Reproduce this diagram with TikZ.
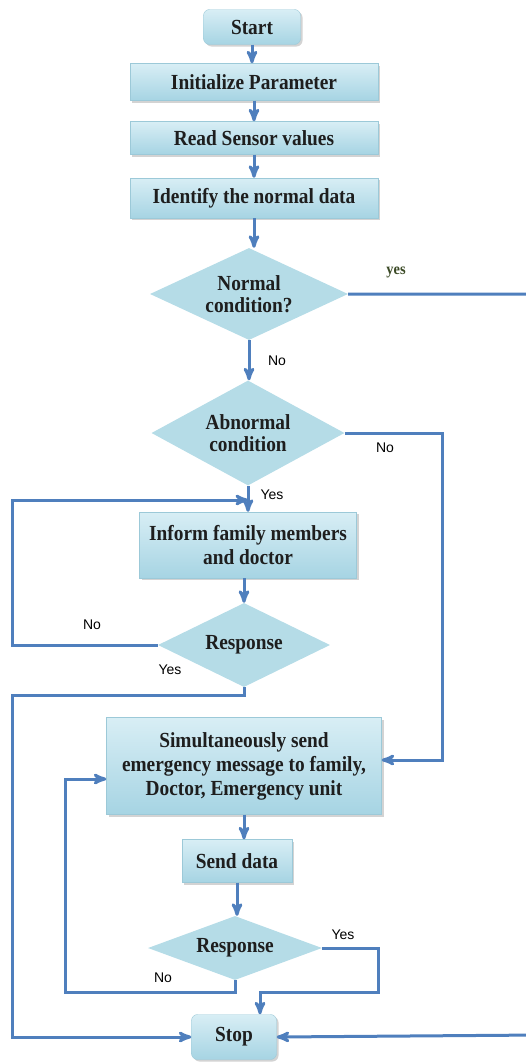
\documentclass[tikz,border=0pt]{standalone}
\usepackage{fontspec}
\setmainfont{Liberation Serif}[FakeStretch=0.9]
\newfontfamily\labelfont{Liberation Sans}
\usetikzlibrary{arrows,shapes.geometric,shadows}
\definecolor{flowline}{HTML}{4F7FBD}
\definecolor{boxtop}{HTML}{D8EEF5}
\definecolor{boxbot}{HTML}{A6D4E3}
\definecolor{boxedge}{HTML}{9CC9D8}
\definecolor{diafill}{HTML}{B5DCE7}
\definecolor{yescol}{HTML}{3B4A26}
\definecolor{inkcol}{HTML}{1E1E1E}

\begin{document}
\begin{tikzpicture}[x=1pt,y=-1pt,>=stealth',
    line/.style={draw=flowline,line width=3pt},
    process node/.style={rectangle,draw=boxedge,top color=boxtop,bottom color=boxbot,
      drop shadow={shadow xshift=2pt,shadow yshift=-2pt,opacity=0.35},
      align=center,inner sep=0pt,text=inkcol,font=\fontsize{21.5}{24}\selectfont\bfseries},
    decision node/.style={diamond,fill=diafill,aspect=2,inner sep=0pt,align=center,
      text=inkcol,font=\fontsize{21.5}{22}\selectfont\bfseries},
    answer/.style={font=\labelfont\fontsize{14}{16}\selectfont}]
  \useasboundingbox (0,0) rectangle (526,1063);
  \clip (0,0) rectangle (526,1063);

  \node[process node,rounded corners=6pt,minimum width=97pt,minimum height=35pt] (start) at (252,27) {Start};
  \node[process node,minimum width=248pt,minimum height=37pt] (init) at (254,82) {Initialize Parameter};
  \node[process node,minimum width=248pt,minimum height=33pt] (read) at (254,138) {Read Sensor values};
  \node[process node,minimum width=248pt,minimum height=40pt] (ident) at (254,198) {Identify the normal data};
  \node[decision node,minimum width=198pt,minimum height=92pt] (normal) at (249,294) {Normal\\condition?};
  \node[decision node,minimum width=193pt,minimum height=105pt] (abnormal) at (248,433) {Abnormal\\condition};
  \node[process node,minimum width=217pt,minimum height=66pt] (inform) at (248,545) {Inform family members\\and doctor};
  \node[decision node,minimum width=172pt,minimum height=84pt] (resp1) at (244,645) {Response};
  \node[process node,minimum width=275pt,minimum height=97pt] (sim) at (244,766) {Simultaneously send\\emergency message to family,\\Doctor, Emergency unit};
  \node[process node,minimum width=110pt,minimum height=43pt] (send) at (237,861) {Send data};
  \node[decision node,minimum width=174pt,minimum height=64pt] (resp2) at (235,948) {Response};
  \node[process node,rounded corners=6pt,minimum width=85pt,minimum height=45pt] (stop) at (234,1037) {Stop};

  \coordinate (redge) at (540,1035);
  \coordinate (noright) at (442,760);
  \coordinate (loopin) at (12,500);
  \coordinate (loopout) at (12,695);
  \coordinate (resendb) at (65,992);
  \coordinate (resendt) at (65,779);
  \coordinate (yesr) at (378,992);
  \coordinate (yess) at (260,992);

  \path[every edge/.style={line,->}]
    (start.south) edge (start.south |- init.north)
    (init.south) edge (init.south |- read.north)
    (read.south) edge (read.south |- ident.north)
    (ident.south) edge (ident.south |- normal.north)
    (normal.south) edge (normal.south |- abnormal.north)
    (abnormal.south) edge (abnormal.south |- inform.north)
    (resp1.north |- inform.south) edge (resp1.north)
    (sim.south) edge (sim.south |- send.north)
    (send.south) edge (send.south |- resp2.north);

  \draw[line,->] (normal.east) -| (redge) -- (stop.east);
  \draw[line,->] (abnormal.east) -| (noright) -- (noright -| sim.east);
  \draw[line,->] (resp1.west) -| (loopin) -- (loopin -| inform.north);
  \draw[line,->] (resp1.south) |- (loopout) |- (stop.west);
  \draw[line,->] (resp2.south) |- (resendb) -- (resendt) -- (resendt -| sim.west);
  \draw[line,->] (resp2.east) -| (yesr) -- (yess) -- (yess |- stop.north);

  \node[font=\fontsize{16}{18}\selectfont\bfseries,text=yescol] (yes1) at (396,272) {yes};
  \node[answer] (no1) at (277,361) {No};
  \node[answer] (no2) at (385,448) {No};
  \node[answer] (yes2) at (272,495) {Yes};
  \node[answer] (no3) at (92,625) {No};
  \node[answer] (yes3) at (170,670) {Yes};
  \node[answer] (yes4) at (343,935) {Yes};
  \node[answer] (no4) at (163,978) {No};
\end{tikzpicture}
\end{document}
